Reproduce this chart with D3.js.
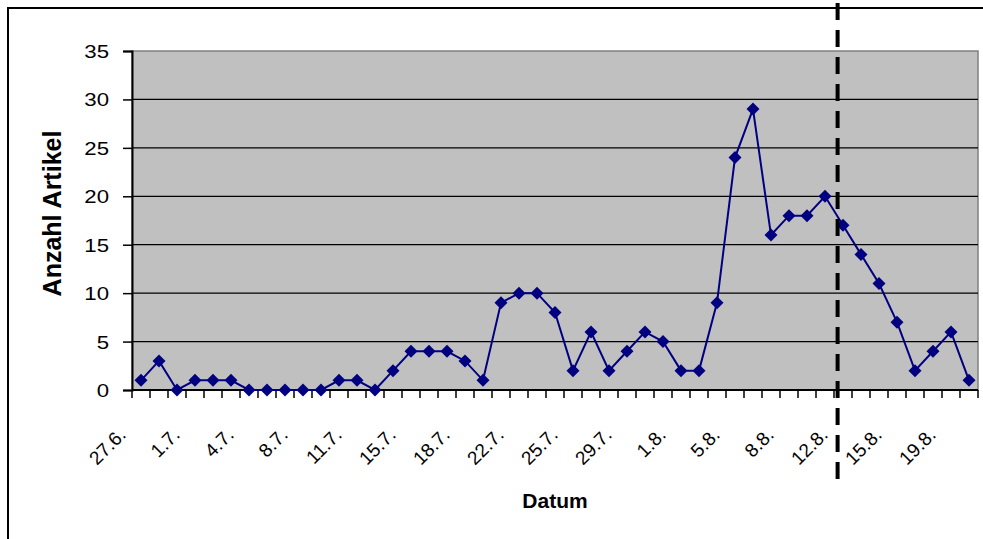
<!DOCTYPE html>
<html>
<head>
<meta charset="utf-8">
<script src="https://cdn.jsdelivr.net/npm/d3@7"></script>
<style>
  html, body { margin: 0; padding: 0; background: #fff; }
  svg { display: block; }
  text { font-family: "Liberation Sans", Arial, sans-serif; fill: #000; }
</style>
</head>
<body>
<svg id="chart" width="983" height="539"></svg>
<script>
// Publication days, summer 2007 (Saturdays have no issue)
const dates = [
  "27.6.", "28.6.", "29.6.", "1.7.", "2.7.", "3.7.", "4.7.", "5.7.", "6.7.",
  "8.7.", "9.7.", "10.7.", "11.7.", "12.7.", "13.7.", "15.7.", "16.7.", "17.7.",
  "18.7.", "19.7.", "20.7.", "22.7.", "23.7.", "24.7.", "25.7.", "26.7.", "27.7.",
  "29.7.", "30.7.", "31.7.", "1.8.", "2.8.", "3.8.", "5.8.", "6.8.", "7.8.",
  "8.8.", "9.8.", "10.8.", "12.8.", "13.8.", "14.8.", "15.8.", "16.8.", "17.8.",
  "19.8.", "20.8."
];
// Number of articles per day
const articles = [
  1, 3, 0, 1, 1, 1, 0, 0, 0,
  0, 0, 1, 1, 0, 2, 4, 4, 4,
  3, 1, 9, 10, 10, 8, 2, 6, 2,
  4, 6, 5, 2, 2, 9, 24, 29, 16,
  18, 18, 20, 17, 14, 11, 7, 2, 4,
  6, 1
];
// Dates printed on the category axis
const dateLabels = ["27.6.", "1.7.", "4.7.", "8.7.", "11.7.", "15.7.", "18.7.", "22.7.",
  "25.7.", "29.7.", "1.8.", "5.8.", "8.8.", "12.8.", "15.8.", "19.8."];
const yTicks = [0, 5, 10, 15, 20, 25, 30, 35];
// Dashed divider sits between 10.8. and 12.8.
const dividerAfter = "10.8.";
const dividerBefore = "12.8.";

const svg = d3.select("#chart");
const plot = { left: 132, right: 978, top: 51, bottom: 390 };

const x = d3.scaleBand().domain(dates).range([plot.left, plot.right]).padding(0);
const y = d3.scaleLinear().domain([0, 35]).range([plot.bottom, plot.top]);
const cx = d => x(d) + x.bandwidth() / 2;

// Outer chart frame
svg.append("rect")
  .attr("x", 8).attr("y", 8).attr("width", 990).attr("height", 545)
  .attr("fill", "none").attr("stroke", "#000").attr("stroke-width", 2);

// Plot area
svg.append("rect")
  .attr("x", plot.left).attr("y", plot.top)
  .attr("width", plot.right - plot.left).attr("height", plot.bottom - plot.top)
  .attr("fill", "#C0C0C0").attr("stroke", "#808080").attr("stroke-width", 1.5);

// Horizontal gridlines
svg.append("g").selectAll("line")
  .data(yTicks.filter(v => v > 0 && v < 35))
  .join("line")
  .attr("x1", plot.left).attr("x2", plot.right)
  .attr("y1", d => y(d)).attr("y2", d => y(d))
  .attr("stroke", "#000").attr("stroke-width", 1.2);

// Y axis
const yAxis = svg.append("g")
  .attr("transform", `translate(${plot.left},0)`)
  .call(d3.axisLeft(y).tickValues(yTicks).tickSize(9).tickPadding(0).tickFormat(d3.format("d")));
yAxis.select(".domain").attr("stroke", "#000").attr("stroke-width", 2);
yAxis.selectAll(".tick line").attr("stroke", "#000").attr("stroke-width", 1.5);
yAxis.selectAll(".tick text")
  .attr("x", null).attr("dy", null)
  .attr("font-size", 18.5).attr("text-anchor", "end")
  .attr("transform", "translate(-23,6.5) scale(1.2,1)");

// X axis: ticks at category boundaries
const xAxis = svg.append("g");
xAxis.append("line")
  .attr("x1", plot.left).attr("x2", plot.right)
  .attr("y1", plot.bottom).attr("y2", plot.bottom)
  .attr("stroke", "#000").attr("stroke-width", 2);
xAxis.selectAll("line.tick")
  .data(dates.concat([null]))
  .join("line").attr("class", "tick")
  .attr("x1", d => d ? x(d) : plot.right)
  .attr("x2", d => d ? x(d) : plot.right)
  .attr("y1", plot.bottom).attr("y2", plot.bottom + 8)
  .attr("stroke", "#000").attr("stroke-width", 1.5);
xAxis.selectAll("text")
  .data(dateLabels)
  .join("text")
  .attr("font-size", 19)
  .attr("text-anchor", "end")
  .attr("transform", d => `translate(${cx(d) - 14},${plot.bottom + 46}) rotate(-45)`)
  .text(d => d);

// Axis titles
svg.append("text")
  .attr("x", (plot.left + plot.right) / 2).attr("y", 508)
  .attr("text-anchor", "middle").attr("font-size", 21).attr("font-weight", "bold")
  .text("Datum");
svg.append("text")
  .attr("transform", `translate(61,${(plot.top + plot.bottom) / 2 - 7}) rotate(-90)`)
  .attr("text-anchor", "middle").attr("font-size", 25).attr("font-weight", "bold")
  .text("Anzahl Artikel");

// Series line
const line = d3.line().x((d, i) => cx(dates[i])).y(d => y(d));
svg.append("path")
  .datum(articles)
  .attr("d", line)
  .attr("fill", "none").attr("stroke", "#000080").attr("stroke-width", 2);

// Diamond markers
const r = 6.5;
svg.append("g").selectAll("path")
  .data(articles)
  .join("path")
  .attr("d", (d, i) => {
    const px = cx(dates[i]), py = y(d);
    return `M${px},${py - r}L${px + r},${py}L${px},${py + r}L${px - r},${py}Z`;
  })
  .attr("fill", "#000080");

// Dashed divider
const divX = cx(dividerAfter) * 0.3 + cx(dividerBefore) * 0.7;
svg.append("line")
  .attr("x1", divX).attr("x2", divX)
  .attr("y1", 3).attr("y2", 485)
  .attr("stroke", "#000").attr("stroke-width", 4)
  .attr("stroke-dasharray", "17,10");
</script>
</body>
</html>
